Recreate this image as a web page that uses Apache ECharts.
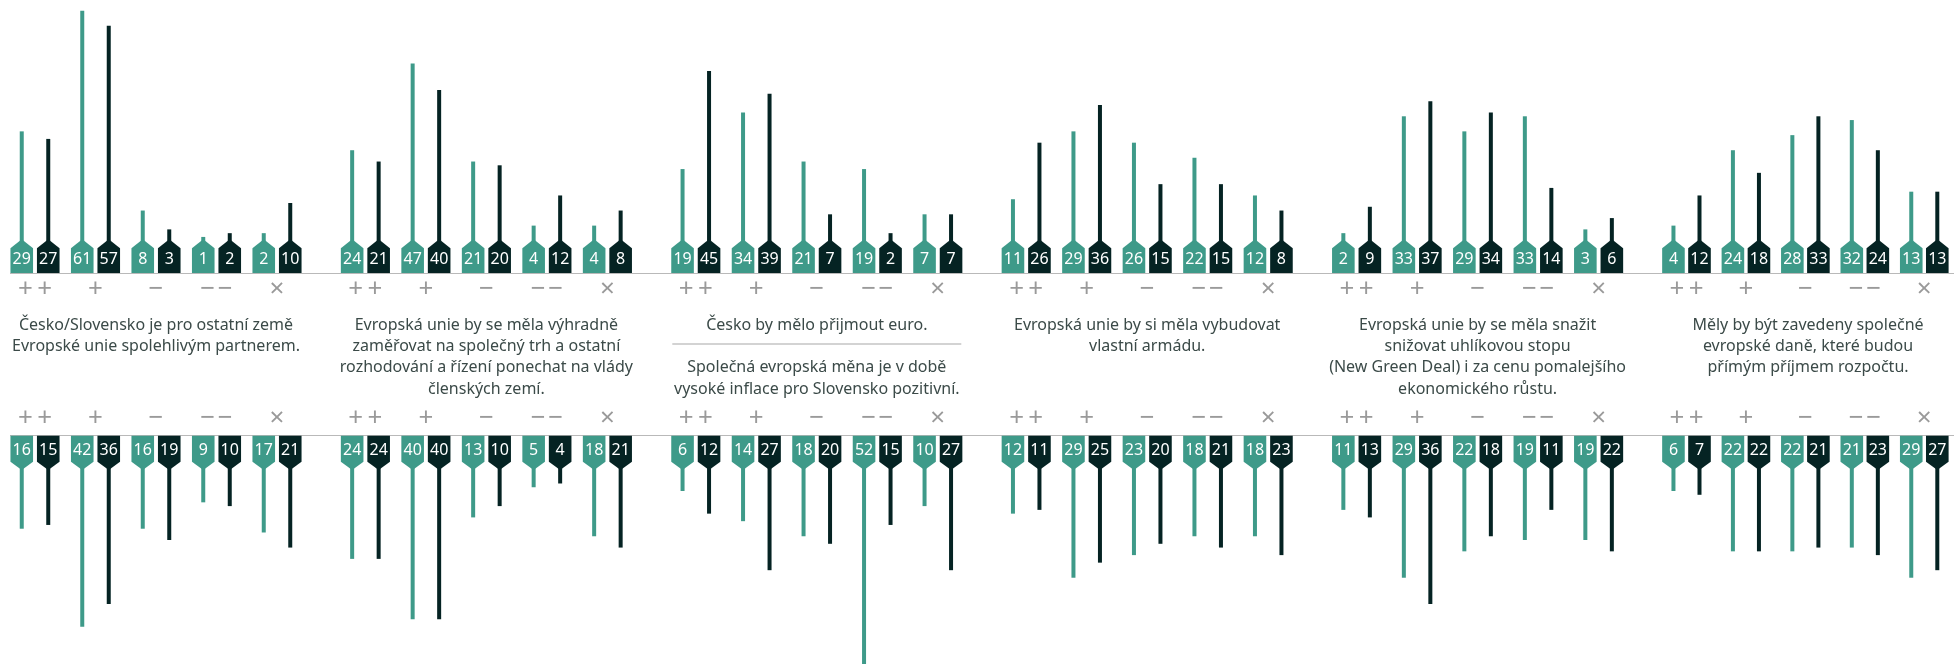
<!DOCTYPE html>
<html>
<head>
<meta charset="utf-8">
<script src="https://cdn.jsdelivr.net/npm/echarts@6/dist/echarts.min.js"></script>
<style>
html,body{margin:0;padding:0;background:#fff;}
#chart{width:1954px;height:664px;}
</style>
</head>
<body>
<div id="chart"></div>
<script>
// ---- data ----
const answers = ['++', '+', '−', '−−', '×'];

const titlesTop = [
  'Česko/Slovensko je pro ostatní země\nEvropské unie spolehlivým partnerem.',
  'Evropská unie by se měla výhradně\nzaměřovat na společný trh a ostatní\nrozhodování a řízení ponechat na vlády\nčlenských zemí.',
  'Česko by mělo přijmout euro.',
  'Evropská unie by si měla vybudovat\nvlastní armádu.',
  'Evropská unie by se měla snažit\nsnižovat uhlíkovou stopu\n(New Green Deal) i za cenu pomalejšího\nekonomického růstu.',
  'Měly by být zavedeny společné\nevropské daně, které budou\npřímým příjmem rozpočtu.'
];
const titleSlovakEuro = 'Společná evropská měna je v době\nvysoké inflace pro Slovensko pozitivní.';

// upper panel (teal / dark), one row per statement
const upperTeal = [
  [29, 61, 8, 1, 2],
  [24, 47, 21, 4, 4],
  [19, 34, 21, 19, 7],
  [11, 29, 26, 22, 12],
  [2, 33, 29, 33, 3],
  [4, 24, 28, 32, 13]
];
const upperDark = [
  [27, 57, 3, 2, 10],
  [21, 40, 20, 12, 8],
  [45, 39, 7, 2, 7],
  [26, 36, 15, 15, 8],
  [9, 37, 34, 14, 6],
  [12, 18, 33, 24, 13]
];
// lower panel
const lowerTeal = [
  [16, 42, 16, 9, 17],
  [24, 40, 13, 5, 18],
  [6, 14, 18, 52, 10],
  [12, 29, 23, 18, 18],
  [11, 29, 22, 19, 19],
  [6, 22, 22, 21, 29]
];
const lowerDark = [
  [15, 36, 19, 10, 21],
  [24, 40, 10, 4, 21],
  [12, 27, 20, 15, 27],
  [11, 25, 20, 21, 23],
  [13, 36, 18, 11, 22],
  [7, 22, 21, 23, 27]
];

// ---- styling ----
const TEAL = '#3e9a89';
const DARK = '#052323';
const GRAY_LINE = '#b9b9b9';
const SYMBOL = '#9a9a9a';
const TEXT = '#3b4a48';
const FONT = 'Noto Sans';

const chart = echarts.init(document.getElementById('chart'));

const GROUP_STEP = 330.4, GROUP_LEFT = 4.75, GROUP_W = 302.5;
const UNIT = 3.77;
const TOP_BASE = 240.7, BOT_BASE = 468.4;
const BOT_H = 664 - BOT_BASE;

function makeRender(color, dir, upper) {
  return function (params, api) {
    const cat = api.value(0), v = api.value(1);
    const base = api.coord([cat, 0]);
    const end = api.coord([cat, v]);
    const bw = api.size([1, 0])[0];
    const cx = base[0] + dir * bw * 0.219;
    const w = 22.6, x0 = cx - w / 2, x1 = cx + w / 2;
    let pts, ty, stem;
    if (upper) {
      const apex = base[1] - 1.5, sh = base[1] + 7.5, re = base[1] + 32.3;
      pts = [[x0, re], [x0, sh], [cx, apex], [x1, sh], [x1, re]];
      ty = base[1] + 19;
      stem = { x: cx - 2, y: end[1], width: 4, height: base[1] - end[1] + 2 };
    } else {
      const apex = base[1] + 1.5, sh = base[1] - 6.7, re = base[1] - 32.7;
      pts = [[x0, re], [x0, sh], [cx, apex], [x1, sh], [x1, re]];
      ty = base[1] - 17.6;
      stem = { x: cx - 2, y: base[1] - 2, width: 4, height: end[1] - base[1] + 2 };
    }
    return {
      type: 'group',
      children: [
        { type: 'rect', shape: stem, style: { fill: color } },
        { type: 'polygon', shape: { points: pts }, style: { fill: color } },
        {
          type: 'text',
          style: {
            text: String(v), x: cx, y: ty, align: 'center', verticalAlign: 'middle',
            fill: '#ffffff', font: '16px "' + FONT + '"'
          }
        }
      ]
    };
  };
}

function symbolText(s) {
  if (s === '++') return '+\u2009+';
  if (s === '−−') return '−\u200A−';
  return s;
}

const grid = [], xAxis = [], yAxis = [], series = [], graphic = [];

for (let g = 0; g < 6; g++) {
  const left = GROUP_LEFT + GROUP_STEP * g;
  grid.push({ left: left, width: GROUP_W, top: 0, height: TOP_BASE });
  grid.push({ left: left, width: GROUP_W, top: BOT_BASE, height: BOT_H });
  const gi = g * 2;
  const lab = {
    show: true, color: SYMBOL, fontSize: 26, fontFamily: FONT, verticalAlign: 'middle',
    formatter: symbolText
  };
  xAxis.push({
    type: 'category', gridIndex: gi, data: answers, position: 'bottom',
    axisLine: { show: false }, axisTick: { show: false }, splitLine: { show: false },
    axisLabel: Object.assign({}, lab, { margin: 290 - TOP_BASE })
  });
  xAxis.push({
    type: 'category', gridIndex: gi + 1, data: answers, position: 'top',
    axisLine: { show: false }, axisTick: { show: false }, splitLine: { show: false },
    axisLabel: Object.assign({}, lab, { margin: BOT_BASE - 418.5 })
  });
  yAxis.push({ type: 'value', gridIndex: gi, min: 0, max: TOP_BASE / UNIT, show: false });
  yAxis.push({ type: 'value', gridIndex: gi + 1, min: 0, max: BOT_H / UNIT, inverse: true, show: false });

  const sets = [
    [upperTeal[g], TEAL, -1, true, gi],
    [upperDark[g], DARK, 1, true, gi],
    [lowerTeal[g], TEAL, -1, false, gi + 1],
    [lowerDark[g], DARK, 1, false, gi + 1]
  ];
  sets.forEach(([vals, color, dir, upper, idx]) => {
    series.push({
      type: 'custom', xAxisIndex: idx, yAxisIndex: idx, clip: false,
      renderItem: makeRender(color, dir, upper),
      encode: { x: 0, y: 1 },
      data: vals.map((v, i) => [i, v])
    });
  });

  const cxg = left + GROUP_W / 2;
  graphic.push({
    type: 'text', x: cxg, y: 314.5,
    style: {
      text: titlesTop[g], align: 'center', verticalAlign: 'top',
      font: '16px "' + FONT + '"', lineHeight: 21.3, fill: TEXT
    }
  });
  if (g === 2) {
    graphic.push({
      type: 'line', shape: { x1: cxg - 144.5, y1: 344, x2: cxg + 144.5, y2: 344 },
      style: { stroke: '#c4c4c4', lineWidth: 1.5 }
    });
    graphic.push({
      type: 'text', x: cxg, y: 314.5 + 42.6,
      style: {
        text: titleSlovakEuro, align: 'center', verticalAlign: 'top',
        font: '16px "' + FONT + '"', lineHeight: 21.3, fill: TEXT
      }
    });
  }
}

graphic.push({ type: 'line', shape: { x1: 10, y1: 273.5, x2: 1954, y2: 273.5 }, style: { stroke: GRAY_LINE, lineWidth: 1.2 } });
graphic.push({ type: 'line', shape: { x1: 10, y1: 435.5, x2: 1954, y2: 435.5 }, style: { stroke: GRAY_LINE, lineWidth: 1.2 } });

chart.setOption({
  animation: false,
  backgroundColor: '#ffffff',
  grid, xAxis, yAxis, series, graphic
});
</script>
</body>
</html>
